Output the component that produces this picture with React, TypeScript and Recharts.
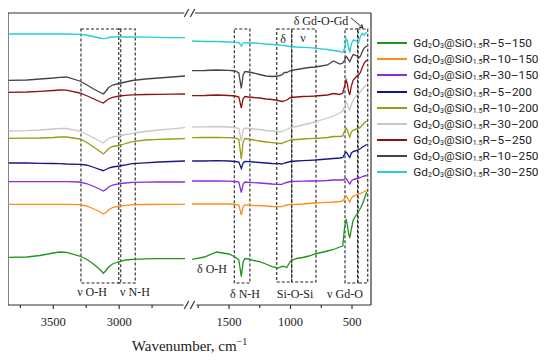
import React from "react";
import {
  LineChart,
  Line,
  XAxis,
  YAxis,
  ReferenceArea,
  ReferenceLine,
  ReferenceDot,
} from "recharts";

// wavenumbers (cm-1) of the high-frequency panel
const WN_HIGH = [3840, 3700, 3600, 3500, 3450, 3400, 3300, 3250, 3200, 3150, 3120, 3100, 3080, 3050, 3000, 2950, 2900, 2800, 2700, 2600, 2500];
// wavenumbers (cm-1) of the fingerprint panel
const WN_LOW = [1800, 1700, 1600, 1500, 1450, 1420, 1400, 1385, 1370, 1340, 1300, 1250, 1200, 1150, 1100, 1070, 1050, 1030, 1000, 950, 900, 850, 800, 750, 700, 650, 600, 575, 560, 548, 538, 528, 518, 505, 490, 475, 460, 445, 430, 415, 400, 380];

// transmittance (a.u., stacked with offsets)
const R5_150_HIGH = [47.7, 48, 49.5, 52, 53, 52.7, 49, 46, 41.5, 36, 31.7, 34.5, 38, 41, 43.5, 45, 45.7, 46.2, 46.3, 46.3, 46.3];
const R5_150_LOW = [45.7, 48, 53, 51, 48, 45, 28.3, 43, 46.5, 46, 44.5, 43.3, 41, 38.3, 37, 38.5, 38.5, 37.5, 44, 46.5, 47.5, 49, 51, 52.5, 54, 55.5, 58, 59, 78, 86, 80, 72, 67, 76, 85, 88, 91, 94, 97, 101, 106, 113];

const R10_150_HIGH = [100.7, 100.7, 100.7, 100.7, 100.7, 100.7, 100.3, 99, 96.5, 93.5, 91, 92.5, 95, 97.5, 99, 99.7, 100.3, 100.5, 100.6, 100.7, 100.7];
const R10_150_LOW = [101, 101, 101.2, 101, 100.5, 100, 90, 98.5, 100, 99.8, 99.5, 99.3, 99, 98.5, 98.3, 98.3, 99.5, 100, 100.3, 100.7, 101, 101.5, 102, 102.3, 102.7, 103, 103.5, 104, 106.5, 109, 107.5, 105, 103, 107, 109, 109.5, 110.5, 111, 111.7, 112.5, 113.5, 114.3];

const R30_150_HIGH = [123.3, 123.3, 123.3, 123.3, 123.3, 123.3, 123, 121.5, 119, 116, 114, 115.5, 118, 120, 121.3, 122, 122.7, 122.9, 123, 123, 123];
const R30_150_LOW = [124, 124, 124, 123.8, 123.5, 123, 112.3, 121, 123, 122.7, 122.3, 122, 121.5, 121, 120.7, 120.7, 122, 122.5, 123.5, 123.7, 123.8, 124, 124, 124.2, 124.5, 125, 125, 125, 126, 126.5, 125, 122.5, 121, 124, 125.5, 126, 126.5, 127, 127.5, 128.5, 129, 129.5];

const R5_200_HIGH = [142, 142, 141.7, 141.5, 141.3, 141, 140.7, 140, 138, 135.7, 134.3, 135.5, 137, 138, 139, 140.2, 141.3, 142.2, 143, 143.5, 144];
const R5_200_LOW = [144, 144, 144.3, 144, 143.5, 143, 136.5, 142, 143.5, 143.3, 143, 142.5, 142, 141.5, 141.3, 141, 142, 142.5, 143.5, 144, 144.3, 144.7, 145, 145.5, 146, 146.5, 147, 147.5, 151, 153, 151.5, 149, 147.5, 152, 153.5, 154, 154.5, 155.5, 156.5, 158, 159, 160.5];

const R10_200_HIGH = [166.7, 166.8, 167, 167.5, 168, 168, 166, 163, 158.5, 154, 151, 153.5, 156.5, 158.5, 159.5, 161.5, 163.3, 165, 165.7, 166, 166.3];
const R10_200_LOW = [167.3, 167.5, 167.7, 167.3, 167, 165.5, 146, 163, 166.5, 166, 165, 164, 163, 162.3, 161.7, 161.5, 163, 163.5, 165, 165.5, 166, 166.3, 166.7, 167, 167.5, 168.5, 168.5, 169, 174, 177, 175, 171, 168, 173, 175, 175.5, 176, 176.5, 178, 180, 182, 184];

const R30_200_HIGH = [174, 174.3, 175, 176, 176.5, 176.5, 174, 171, 167.5, 164, 162, 164.5, 166.5, 168, 169, 170.5, 171.7, 173.5, 175, 176.2, 177.3];
const R30_200_LOW = [178, 178.2, 178.5, 178, 177.5, 176.5, 164, 175, 177, 176.5, 176, 175.5, 174.5, 174, 173.5, 173.3, 174.5, 175.5, 177.5, 178.5, 180, 181.5, 183, 185, 187, 189, 192, 194, 199, 203, 201, 197, 195, 201, 205, 208, 210, 211, 214, 216, 218, 220];

const R5_250_HIGH = [212.7, 213, 213.7, 214.5, 215, 214.8, 212, 209.5, 206.5, 203.5, 202, 204, 206, 207.7, 209, 209.7, 210.2, 210.5, 210.7, 210.9, 211];
const R5_250_LOW = [209.3, 209.5, 210, 209.5, 209, 208, 197, 206.5, 208.5, 208, 207.5, 207, 206, 205.5, 204.5, 203.5, 204, 205, 207.5, 208, 208.5, 208.7, 209, 209.5, 210, 211.5, 210.5, 212, 219, 225, 221, 214, 210, 219, 225, 227, 229, 230, 233, 238, 242, 245];

const R10_250_HIGH = [224.7, 225, 226, 227, 227.7, 228, 224, 220.5, 216.5, 213, 211, 214, 217.5, 220, 221.5, 223, 224.5, 226, 227, 228, 229];
const R10_250_LOW = [234.3, 234.5, 235, 234.7, 234, 232, 216.5, 230, 233.5, 233, 232, 230.5, 229, 228.5, 229, 230, 232.5, 232.5, 234.5, 235.5, 236.5, 237.5, 238, 239, 240, 244, 241, 242, 245, 248.5, 247, 245, 243.3, 247, 250.5, 250, 249, 247, 249, 254, 257, 259];

const R30_250_HIGH = [271, 271, 271, 271, 271, 271, 270.7, 270, 268.5, 267, 266.3, 266.7, 267.5, 268, 268.3, 268, 268, 267.8, 267.6, 267.4, 267.3];
const R30_250_LOW = [264, 263.5, 263.5, 263, 262.7, 262.5, 259, 262, 262.3, 262, 262, 261.7, 261, 260.5, 260, 259.7, 259.5, 259, 258.5, 258, 257.7, 257.3, 256.8, 256.2, 255.5, 254.5, 253.5, 252.5, 257, 266.5, 264, 257, 253.3, 261, 265, 264.5, 264, 263, 269, 271.5, 270, 273];

const SAMPLES = ["R–5–150", "R–10–150", "R–30–150", "R–5–200", "R–10–200", "R–30–200", "R–5–250", "R–10–250", "R–30–250"];
const COLORS = ["#1f941f", "#ff8c1a", "#8a2be2", "#16168c", "#9a9a14", "#c8c8c8", "#8e1212", "#444444", "#22cfd2"];
const HIGH = [R5_150_HIGH, R10_150_HIGH, R30_150_HIGH, R5_200_HIGH, R10_200_HIGH, R30_200_HIGH, R5_250_HIGH, R10_250_HIGH, R30_250_HIGH];
const LOW = [R5_150_LOW, R10_150_LOW, R30_150_LOW, R5_200_LOW, R10_200_LOW, R30_200_LOW, R5_250_LOW, R10_250_LOW, R30_250_LOW];

const TICK_WN = [3750, 3500, 3250, 3000, 2750, 1750, 1500, 1250, 1000, 750, 500];
const TICK_LABELS = ["", "3500", "", "3000", "", "", "1500", "", "1000", "", "500"];

// broken axis: two linear segments of the same axis
const toAxis = (w: number) =>
  w >= 2400 ? 45.3 + (3500 - w) * 0.1317 : 221 + (1500 - w) * 0.123;

const PLOT_W = 363;
const PLOT_H = 292;
const AXIS_Y = 297;

const data = [
  ...WN_HIGH.map((w, i) => {
    const r: any = { p: toAxis(w) };
    HIGH.forEach((s, k) => (r["s" + k] = s[i]));
    return r;
  }),
  { p: 180.5 },
  ...WN_LOW.map((w, i) => {
    const r: any = { p: toAxis(w) };
    LOW.forEach((s, k) => (r["s" + k] = s[i]));
    return r;
  }),
];

const serif = "'Liberation Serif', 'Times New Roman', serif";

const Note = ({ viewBox, note, size = 12 }: any) => (
  <text
    x={viewBox.x}
    y={viewBox.y}
    textAnchor="middle"
    dominantBaseline="central"
    fontFamily={serif}
    fontSize={size}
    fill="#222"
  >
    {note}
  </text>
);

const AxisTitle = () => (
  <text x={PLOT_W / 2} y={AXIS_Y + 46} textAnchor="middle" fontFamily={serif} fontSize={15} fill="#222">
    Wavenumber, cm<tspan dy={-6} fontSize={10}>−1</tspan>
  </text>
);

const renderTick = ({ x, index }: any) => {
  const label = TICK_LABELS[index];
  return (
    <g>
      <line x1={x} x2={x} y1={AXIS_Y} y2={AXIS_Y + (label ? 4 : 3)} stroke="#333" strokeWidth={1.2} />
      {label && (
        <text x={x} y={AXIS_Y + 21} textAnchor="middle" fontFamily={serif} fontSize={12.5} fill="#222">
          {label}
        </text>
      )}
    </g>
  );
};

// annotation boxes: [wn from, wn to, bottom, top]
const BOXES = [
  [3290, 2988, 22, 276],
  [3003, 2878, 22, 276],
  [1457, 1330, 22, 276],
  [1112, 990, 23, 276],
  [990, 793, 23, 276],
  [557, 450, 22, 276],
  [455, 372, 22, 276],
];
const NOTES = [
  { w: 3206, v: 13, t: "ν O-H" },
  { w: 2880, v: 13, t: "ν N-H" },
  { w: 1638, v: 36, t: "δ O-H" },
  { w: 1370, v: 11, t: "δ N-H" },
  { w: 963, v: 11, t: "Si-O-Si" },
  { w: 557, v: 11, t: "ν Gd-O" },
  { w: 1061, v: 266, t: "δ" },
  { w: 898, v: 267, t: "ν" },
  { w: 752, v: 284, t: "δ Gd-O-Gd" },
];

const frame = { stroke: "#333", strokeWidth: 1.2, ifOverflow: "visible" as const };

const slash = (c: number, y: number) => [
  { x: c - 2.2, y: y - 4 },
  { x: c + 2.2, y: y + 4 },
];

const subStyle = { fontSize: "0.6em", verticalAlign: "-0.1em" };

export default function App() {
  return (
    <div style={{ position: "relative", width: 542, height: 354 }}>
      <LineChart width={542} height={354} data={data} margin={{ top: 5, right: 179, bottom: 0, left: 0 }}>
        <XAxis
          dataKey="p"
          type="number"
          domain={[0, PLOT_W]}
          allowDataOverflow
          ticks={TICK_WN.map(toAxis)}
          interval={0}
          tick={renderTick}
          tickLine={false}
          axisLine={false}
          height={57}
          label={<AxisTitle />}
        />
        <YAxis type="number" domain={[0, PLOT_H]} hide allowDataOverflow />

        <ReferenceLine x={0} {...frame} />
        <ReferenceLine x={PLOT_W} {...frame} />
        <ReferenceLine segment={[{ x: 0, y: 0 }, { x: 175.5, y: 0 }]} {...frame} />
        <ReferenceLine segment={[{ x: 188.5, y: 0 }, { x: PLOT_W, y: 0 }]} {...frame} />
        <ReferenceLine segment={[{ x: 0, y: PLOT_H }, { x: 176.3, y: PLOT_H }]} {...frame} />
        <ReferenceLine segment={[{ x: 187, y: PLOT_H }, { x: PLOT_W, y: PLOT_H }]} {...frame} />
        <ReferenceLine segment={slash(178.5, 0)} {...frame} />
        <ReferenceLine segment={slash(184.5, 0)} {...frame} />
        <ReferenceLine segment={slash(178.5, PLOT_H)} {...frame} />
        <ReferenceLine segment={slash(184.5, PLOT_H)} {...frame} />

        {BOXES.map(([a, b, lo, hi], i) => (
          <ReferenceArea
            key={"box" + i}
            x1={toAxis(a)}
            x2={toAxis(b)}
            y1={lo}
            y2={hi}
            fill="none"
            fillOpacity={0}
            stroke="#222"
            strokeWidth={1.1}
            strokeDasharray="3 2"
            ifOverflow="visible"
          />
        ))}

        {SAMPLES.map((s, k) => (
          <Line
            key={s}
            dataKey={"s" + k}
            stroke={COLORS[k]}
            strokeWidth={1.3}
            dot={false}
            isAnimationActive={false}
          />
        ))}

        {NOTES.map((n) => (
          <ReferenceDot
            key={n.t}
            x={toAxis(n.w)}
            y={n.v}
            r={0}
            fill="none"
            stroke="none"
            ifOverflow="visible"
            label={<Note note={n.t} />}
          />
        ))}

        {/* arrow to the δ Gd-O-Gd box */}
        <ReferenceLine segment={[{ x: toAxis(508), y: 287 }, { x: toAxis(411), y: 277 }]} stroke="#222" strokeWidth={0.9} ifOverflow="visible" />
        <ReferenceLine segment={[{ x: toAxis(422), y: 280.8 }, { x: toAxis(411), y: 277 }]} stroke="#222" strokeWidth={1.1} ifOverflow="visible" />
        <ReferenceLine segment={[{ x: toAxis(442), y: 277.7 }, { x: toAxis(411), y: 277 }]} stroke="#222" strokeWidth={1.1} ifOverflow="visible" />
      </LineChart>

      <div style={{ position: "absolute", left: 369.3, top: 27.2, fontFamily: "Roboto, sans-serif", fontSize: 11.8, color: "#222" }}>
        {SAMPLES.map((s, k) => (
          <div key={s} style={{ display: "flex", alignItems: "center", height: 16.1, whiteSpace: "nowrap" }}>
            <div style={{ width: 29.5, height: 2, background: COLORS[k], marginRight: 6.5, flexShrink: 0 }} />
            <span>
              Gd<sub style={subStyle}>2</sub>O<sub style={subStyle}>3</sub>@SiO<sub style={subStyle}>1.5</sub>
              {s}
            </span>
          </div>
        ))}
      </div>
    </div>
  );
}
